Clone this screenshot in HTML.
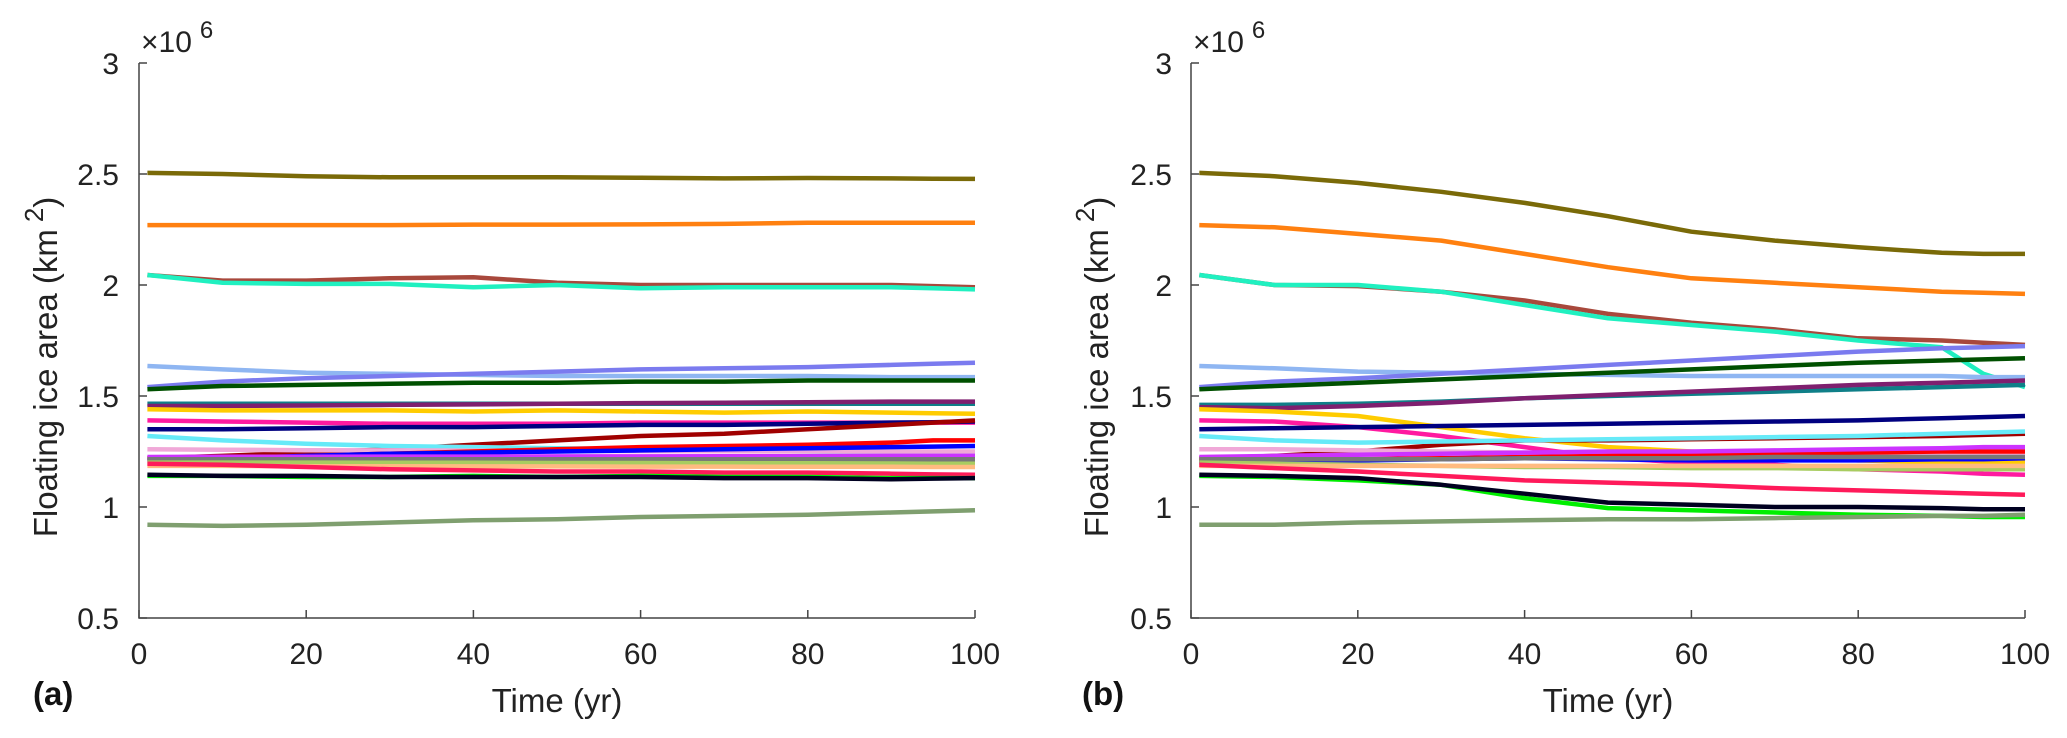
<!DOCTYPE html>
<html><head><meta charset="utf-8">
<style>
html,body{margin:0;padding:0;background:#fff;}
svg{display:block;font-family:"Liberation Sans",Arial,sans-serif;}
</style></head>
<body>
<svg id="chart" width="2067" height="738" viewBox="0 0 2067 738" xmlns="http://www.w3.org/2000/svg"></svg>
<script>
const years = [1,10,20,30,40,50,60,70,80,90,95,100];
const xTicks = [0,20,40,60,80,100];
const yTicks = [0.5,1,1.5,2,2.5,3];
const yTickLabels = ["0.5","1","1.5","2","2.5","3"];
const seriesNames = ["olive","orange","brown","aqua","light-blue","slate-blue","dark-green","teal","purple","gold","deep-pink","navy","dark-red","cyan","light-pink","red","blue","magenta","gray","yellow-green","sandy","crimson","green","black","gray-green"];
const seriesColors = ["#7a6a08","#ff8010","#a8483c","#20f0c0","#8fb6f2","#7b7bef","#005000","#0f7f88","#7f1f6f","#ffcc00","#ff1aa0","#000080","#a00000","#66eaf8","#f0a8d8","#ff0000","#0000ff","#cc33ff","#777777","#a8cc60","#ffbb80","#ff1a5a","#00ee00","#000020","#7f9f6f"];
const valuesA = [
[2.505,2.50,2.49,2.485,2.485,2.485,2.483,2.48,2.482,2.48,2.479,2.478],
[2.27,2.27,2.27,2.27,2.272,2.272,2.273,2.275,2.28,2.28,2.28,2.28],
[2.045,2.02,2.02,2.03,2.035,2.01,2.0,2.0,2.0,2.0,1.995,1.99],
[2.045,2.01,2.005,2.005,1.99,2.0,1.985,1.99,1.99,1.99,1.985,1.98],
[1.635,1.62,1.605,1.60,1.595,1.59,1.59,1.59,1.59,1.585,1.585,1.585],
[1.54,1.565,1.58,1.59,1.60,1.61,1.62,1.625,1.63,1.64,1.645,1.65],
[1.53,1.545,1.55,1.555,1.56,1.56,1.565,1.565,1.57,1.57,1.57,1.57],
[1.465,1.465,1.465,1.465,1.465,1.465,1.465,1.465,1.465,1.465,1.465,1.465],
[1.455,1.455,1.457,1.46,1.462,1.465,1.468,1.47,1.472,1.475,1.475,1.475],
[1.44,1.435,1.435,1.435,1.43,1.435,1.43,1.425,1.43,1.425,1.422,1.42],
[1.39,1.385,1.38,1.375,1.375,1.375,1.38,1.38,1.38,1.38,1.38,1.38],
[1.35,1.35,1.355,1.36,1.36,1.365,1.37,1.37,1.375,1.38,1.382,1.385],
[1.22,1.23,1.245,1.26,1.28,1.30,1.32,1.33,1.35,1.37,1.38,1.39],
[1.32,1.30,1.285,1.275,1.27,1.265,1.26,1.255,1.25,1.245,1.245,1.245],
[1.26,1.258,1.256,1.255,1.254,1.253,1.252,1.251,1.25,1.25,1.25,1.25],
[1.22,1.22,1.23,1.24,1.25,1.26,1.27,1.275,1.28,1.29,1.30,1.30],
[1.21,1.22,1.23,1.24,1.245,1.25,1.255,1.26,1.265,1.27,1.272,1.275],
[1.225,1.226,1.226,1.227,1.227,1.228,1.228,1.229,1.229,1.23,1.23,1.23],
[1.215,1.215,1.215,1.215,1.215,1.215,1.215,1.215,1.215,1.215,1.215,1.215],
[1.20,1.2,1.2,1.199,1.199,1.198,1.198,1.197,1.197,1.196,1.195,1.195],
[1.185,1.185,1.184,1.184,1.183,1.183,1.182,1.182,1.181,1.181,1.18,1.18],
[1.195,1.19,1.18,1.17,1.165,1.16,1.16,1.155,1.155,1.15,1.147,1.145],
[1.14,1.14,1.135,1.135,1.14,1.135,1.14,1.135,1.135,1.13,1.13,1.13],
[1.145,1.14,1.14,1.135,1.135,1.135,1.135,1.13,1.13,1.125,1.128,1.13],
[0.92,0.915,0.92,0.93,0.94,0.945,0.955,0.96,0.965,0.975,0.98,0.985]
];
const valuesB = [
[2.505,2.49,2.46,2.42,2.37,2.31,2.24,2.20,2.17,2.145,2.14,2.14],
[2.27,2.26,2.23,2.20,2.14,2.08,2.03,2.01,1.99,1.97,1.965,1.96],
[2.045,2.0,1.995,1.97,1.93,1.87,1.83,1.80,1.76,1.75,1.74,1.73],
[2.045,2.0,2.0,1.97,1.91,1.85,1.82,1.79,1.75,1.72,1.60,1.54],
[1.635,1.625,1.61,1.605,1.60,1.595,1.59,1.59,1.59,1.59,1.585,1.585],
[1.54,1.565,1.58,1.60,1.62,1.64,1.66,1.68,1.70,1.715,1.72,1.725],
[1.53,1.545,1.56,1.575,1.59,1.605,1.62,1.635,1.65,1.66,1.665,1.67],
[1.46,1.46,1.465,1.475,1.49,1.50,1.51,1.52,1.53,1.54,1.545,1.55],
[1.45,1.445,1.455,1.47,1.49,1.505,1.52,1.535,1.55,1.56,1.565,1.57],
[1.44,1.43,1.41,1.36,1.31,1.27,1.25,1.23,1.21,1.20,1.20,1.20],
[1.39,1.385,1.36,1.32,1.27,1.22,1.20,1.19,1.17,1.16,1.15,1.145],
[1.35,1.355,1.36,1.365,1.37,1.375,1.38,1.385,1.39,1.40,1.405,1.41],
[1.22,1.23,1.25,1.28,1.30,1.30,1.305,1.31,1.315,1.32,1.325,1.33],
[1.32,1.30,1.29,1.295,1.30,1.305,1.31,1.315,1.32,1.33,1.335,1.34],
[1.26,1.26,1.255,1.25,1.245,1.24,1.235,1.235,1.23,1.23,1.23,1.23],
[1.21,1.21,1.215,1.22,1.225,1.23,1.235,1.24,1.245,1.25,1.25,1.25],
[1.20,1.205,1.21,1.215,1.22,1.215,1.21,1.21,1.21,1.215,1.215,1.22],
[1.225,1.23,1.235,1.24,1.245,1.25,1.25,1.255,1.26,1.265,1.27,1.27],
[1.215,1.215,1.215,1.215,1.22,1.22,1.22,1.225,1.225,1.225,1.225,1.225],
[1.20,1.195,1.19,1.185,1.18,1.18,1.175,1.175,1.17,1.17,1.17,1.17],
[1.185,1.185,1.185,1.185,1.185,1.185,1.185,1.185,1.185,1.185,1.185,1.185],
[1.19,1.175,1.16,1.14,1.12,1.11,1.10,1.085,1.075,1.065,1.06,1.055],
[1.14,1.135,1.12,1.10,1.04,0.995,0.985,0.975,0.965,0.96,0.955,0.955],
[1.145,1.14,1.13,1.10,1.06,1.02,1.01,1.0,1.0,0.995,0.99,0.99],
[0.92,0.92,0.93,0.935,0.94,0.945,0.945,0.95,0.955,0.96,0.96,0.965]
];

const NS = "http://www.w3.org/2000/svg";
const svg = document.getElementById('chart');
function mk(tag, attrs, parent){
  const e = document.createElementNS(NS, tag);
  for (const k in attrs) e.setAttribute(k, attrs[k]);
  (parent||svg).appendChild(e);
  return e;
}
const Y0 = 618, Y1 = 63;
function panel(id, x0, x1, values, letter, letterX, labelX, tickRight){
  const g = mk('g', {});
  
  
  const sx = v => x0 + (x1 - x0) * v / 100;
  const sy = v => Y0 + (Y1 - Y0) * (v - 0.5) / 2.5;
  values.forEach((vals, i) => {
    const pts = years.map((yr, j) => sx(yr).toFixed(1) + ',' + sy(vals[j]).toFixed(1)).join(' ');
    const p = mk('polyline', {points: pts, fill: 'none', stroke: seriesColors[i], 'stroke-width': 4.5, 'stroke-linejoin': 'round'}, g);
    
    
  });
  const ax = mk('path', {d: `M${x0},${Y1} V${Y0} H${x1}`, fill: 'none', stroke: '#444', 'stroke-width': 1.5}, g);
  
  
  xTicks.forEach(t => {
    mk('line', {x1: sx(t), x2: sx(t), y1: Y0, y2: Y0 - 8, stroke: '#444', 'stroke-width': 1.5}, g);
    const tx = mk('text', {x: sx(t), y: Y0 + 46, 'font-size': 30, 'text-anchor': 'middle', fill: '#222'}, g);
    tx.textContent = t;
    
    
  });
  yTicks.forEach((t, i) => {
    mk('line', {x1: x0, x2: x0 + 8, y1: sy(t), y2: sy(t), stroke: '#444', 'stroke-width': 1.5}, g);
    const tx = mk('text', {x: tickRight, y: sy(t) + 11, 'font-size': 30, 'text-anchor': 'end', fill: '#222'}, g);
    tx.textContent = yTickLabels[i];
    
    
  });
  const ex = mk('text', {x: x0 + 2, y: 52, 'font-size': 30, fill: '#222'}, g);
  ex.innerHTML = '×10<tspan dy="-14" dx="8" font-size="24">6</tspan>';
  
  
  const yl = mk('text', {x: 0, y: 0, 'font-size': 33, 'text-anchor': 'middle', fill: '#222', transform: `translate(${labelX},367) rotate(-90)`}, g);
  yl.innerHTML = 'Floating ice area (km<tspan dy="-14" dx="7" font-size="26">2</tspan><tspan dy="14">)</tspan>';
  
  
  const xl = mk('text', {x: (x0 + x1) / 2, y: 712, 'font-size': 33, 'text-anchor': 'middle', fill: '#222'}, g);
  xl.textContent = 'Time (yr)';
  
  
  const pl = mk('text', {x: letterX, y: 705, 'font-size': 33, 'font-weight': 'bold', fill: '#111'}, g);
  pl.textContent = letter;
  
  
}
panel('a', 139, 975, valuesA, '(a)', 33, 57, 119);
panel('b', 1191, 2025, valuesB, '(b)', 1082, 1108, 1172);
</script>
</body></html>
